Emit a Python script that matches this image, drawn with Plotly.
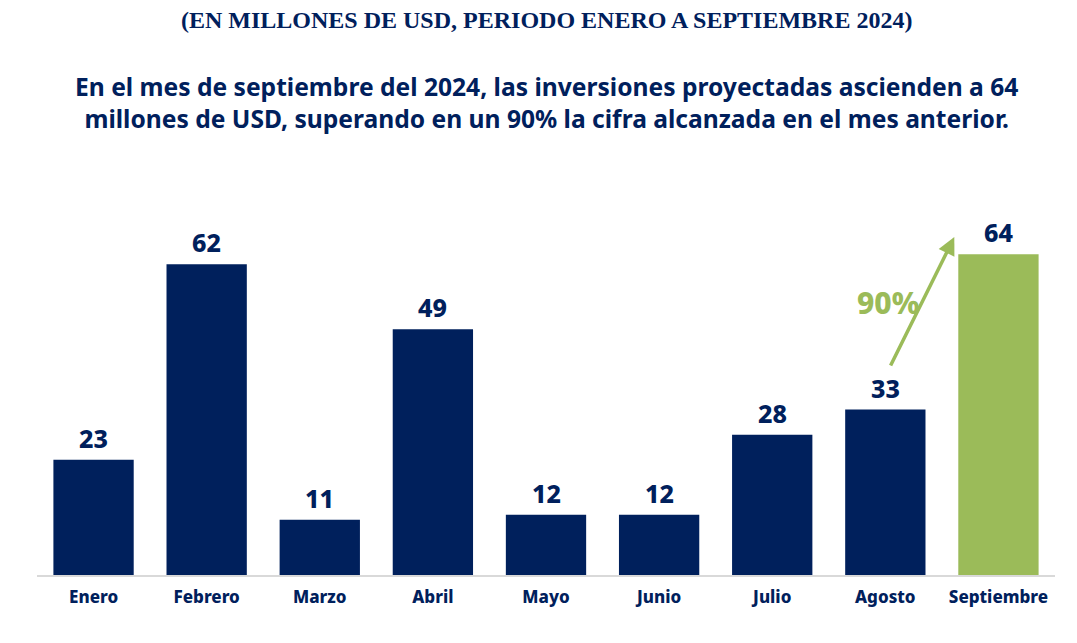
import plotly.graph_objects as go

months = ["Enero", "Febrero", "Marzo", "Abril", "Mayo", "Junio", "Julio", "Agosto", "Septiembre"]
values = [23, 62, 11, 49, 12, 12, 28, 33, 64]
NAVY = "#00205C"
GREEN = "#9BBB59"
colors = [NAVY] * 8 + [GREEN]

growth_label = "90%"
arrow_start = (7.04, 41.5)
arrow_end = (7.61, 67.4)

header = "(EN MILLONES DE USD, PERIODO ENERO A SEPTIEMBRE 2024)"
subtitle_lines = [
    "En el mes de septiembre del 2024, las inversiones proyectadas ascienden a 64",
    "millones de USD, superando en un 90% la cifra alcanzada en el mes anterior.",
]

W, H = 1069, 635  # page body has an 8px margin
T, B, L, R = 191, 67.5, 29, 22
PH = H - T - B


def paper_y(px):
    return 1 + (T - px) / PH


fig = go.Figure()
fig.add_trace(go.Bar(x=months, y=values, marker=dict(color=colors, line=dict(width=0)),
                     hoverinfo="skip"))

for m, v in zip(months, values):
    fig.add_annotation(x=m, y=v, text=str(v), showarrow=False, yanchor="bottom", yshift=3,
                       font=dict(family="Noto Sans", size=25, color=NAVY, weight=800))

fig.add_annotation(x=arrow_end[0], y=arrow_end[1], ax=arrow_start[0], ay=arrow_start[1],
                   xref="x", yref="y", axref="x", ayref="y", text="", showarrow=True,
                   arrowhead=2, arrowsize=1, arrowwidth=3.5, arrowcolor=GREEN)
fig.add_annotation(x=7.02, y=54.3, text=growth_label, showarrow=False,
                   font=dict(family="Noto Sans", size=30, color=GREEN, weight=800))

fig.add_annotation(x=0.5, y=paper_y(12), xref="paper", yref="paper", xanchor="center", yanchor="middle",
                   text="<b>" + header + "</b>", showarrow=False,
                   font=dict(family="Liberation Serif", size=24, color=NAVY))

fig.add_annotation(x=0.5, y=paper_y(94.5), xref="paper", yref="paper", xanchor="center",
                   yanchor="middle", text="<b>" + "<br>".join(subtitle_lines) + "</b>", showarrow=False,
                   align="center",
                   font=dict(family="Noto Sans", size=24.6, color=NAVY, weight=800))

fig.update_layout(
    width=W, height=H,
    margin=dict(l=L, r=R, t=T, b=B),
    paper_bgcolor="white", plot_bgcolor="white",
    bargap=0.29, showlegend=False,
    xaxis=dict(showgrid=False, showline=True, linecolor="#D9D9D9", linewidth=2, ticks="",
               ticklabelstandoff=6,
               tickfont=dict(family="Noto Sans", size=17, color=NAVY, weight=800)),
    yaxis=dict(range=[0, 75], visible=False),
)

fig.write_html("out.html")
